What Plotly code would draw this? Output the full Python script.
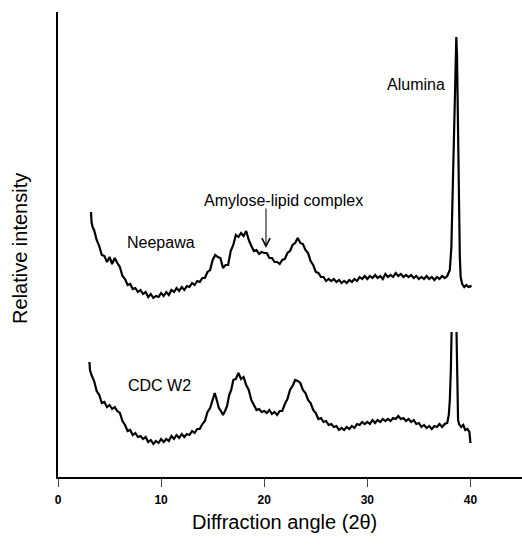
import plotly.graph_objects as go

# Diffraction angle (2θ) and relative intensity (arbitrary units)
neepawa_x = [3.2, 3.25, 3.35, 3.5, 3.75, 4.0, 4.25, 4.5, 4.75, 5.0, 5.25, 5.5, 5.75, 6.0, 6.25, 6.5, 6.75,
             7.0, 7.25, 7.5, 7.75, 8.0, 8.25, 8.5, 8.75, 9.0, 9.25, 9.5, 9.75, 10.0, 10.25, 10.5, 10.75,
             11.0, 11.25, 11.5, 11.75, 12.0, 12.25, 12.5, 12.75, 13.0, 13.25, 13.5, 13.75, 14.0, 14.25,
             14.5, 14.75, 15.0, 15.25, 15.5, 15.75, 16.0, 16.25, 16.5, 16.75, 17.0, 17.25, 17.5, 17.75,
             18.0, 18.25, 18.5, 18.75, 19.0, 19.25, 19.5, 19.75, 20.0, 20.25, 20.5, 20.75, 21.0, 21.25,
             21.5, 21.75, 22.0, 22.25, 22.5, 22.75, 23.0, 23.25, 23.5, 23.75, 24.0, 24.25, 24.5, 24.75,
             25.0, 25.25, 25.5, 25.75, 26.0, 26.25, 26.5, 26.75, 27.0, 27.25, 27.5, 27.75, 28.0, 28.25,
             28.5, 28.75, 29.0, 29.25, 29.5, 29.75, 30.0, 30.25, 30.5, 30.75, 31.0, 31.25, 31.5, 31.75,
             32.0, 32.25, 32.5, 32.75, 33.0, 33.25, 33.5, 33.75, 34.0, 34.25, 34.5, 34.75, 35.0, 35.25,
             35.5, 35.75, 36.0, 36.25, 36.5, 36.75, 37.0, 37.25, 37.5, 37.75, 38.0, 38.15, 38.3, 38.45,
             38.55, 38.63, 38.7, 38.8, 38.9, 38.97, 39.05, 39.2, 39.4, 39.6, 39.8, 40.0, 40.1]
neepawa_y = [265, 255, 250, 247, 237, 231, 222, 221, 215, 220, 213, 219, 214, 210, 201, 198, 192,
             193, 188, 189, 185, 187, 183, 185, 180, 183, 179, 181, 180, 184, 181, 185, 182,
             187, 185, 189, 186, 190, 187, 191, 190, 194, 192, 196, 195, 199, 199,
             205, 207, 217, 222, 220, 219, 209, 212, 212, 226, 232, 242, 240, 244,
             241, 246, 237, 231, 226, 227, 223, 225, 224, 224, 219, 219, 215, 215,
             213, 217, 218, 224, 226, 232, 234, 239, 234, 233, 227, 224, 216, 212,
             205, 204, 200, 200, 196, 198, 196, 198, 195, 197, 194, 196, 194, 197,
             195, 198, 196, 200, 198, 201, 198, 201, 199, 202, 199, 201, 198, 203,
             200, 202, 200, 204, 201, 203, 200, 202, 200, 202, 199, 201, 198, 200,
             198, 201, 198, 200, 197, 200, 198, 201, 199, 201, 207, 230, 307, 380,
             430, 440, 420, 340, 290, 220, 200, 193, 190, 192, 190, 191, 190]

cdc_x = [3.05, 3.1, 3.25, 3.5, 3.75, 4.0, 4.25, 4.5, 4.75, 5.0, 5.25, 5.5, 5.75, 6.0, 6.25, 6.5, 6.75,
         7.0, 7.25, 7.5, 7.75, 8.0, 8.25, 8.5, 8.75, 9.0, 9.25, 9.5, 9.75, 10.0, 10.25, 10.5, 10.75,
         11.0, 11.25, 11.5, 11.75, 12.0, 12.25, 12.5, 12.75, 13.0, 13.25, 13.5, 13.75, 14.0, 14.25,
         14.5, 14.75, 15.0, 15.2, 15.4, 15.6, 15.8, 16.0, 16.2, 16.4, 16.6, 16.8, 17.0, 17.25, 17.5,
         17.75, 18.0, 18.25, 18.5, 18.75, 19.0, 19.25, 19.5, 19.75, 20.0, 20.25, 20.5, 20.75, 21.0,
         21.25, 21.5, 21.75, 22.0, 22.25, 22.5, 22.75, 23.0, 23.25, 23.5, 23.75, 24.0, 24.25, 24.5,
         24.75, 25.0, 25.25, 25.5, 25.75, 26.0, 26.25, 26.5, 26.75, 27.0, 27.25, 27.5, 27.75, 28.0,
         28.25, 28.5, 28.75, 29.0, 29.25, 29.5, 29.75, 30.0, 30.25, 30.5, 30.75, 31.0, 31.25, 31.5,
         31.75, 32.0, 32.25, 32.5, 32.75, 33.0, 33.25, 33.5, 33.75, 34.0, 34.25, 34.5, 34.75, 35.0,
         35.25, 35.5, 35.75, 36.0, 36.25, 36.5, 36.75, 37.0, 37.25, 37.5, 37.75, 37.9, 38.0, 38.1,
         38.17, None, 38.65, 38.75, 38.8, 38.9, 39.1, 39.3, 39.5, 39.7, 39.9, 40.0]
cdc_y = [115, 107, 102, 96, 86, 82, 74, 75, 70, 72, 68, 70, 66, 64, 56, 52, 46,
         47, 42, 44, 40, 41, 38, 40, 35, 37, 33, 36, 34, 38, 35, 38, 36,
         41, 38, 42, 39, 43, 40, 43, 42, 46, 44, 48, 48, 53, 56,
         65, 69, 79, 84, 77, 69, 66, 62, 66, 71, 82, 87, 97, 98, 104,
         98, 100, 92, 87, 77, 72, 67, 68, 65, 66, 64, 67, 63, 65,
         62, 66, 66, 73, 78, 87, 91, 97, 96, 94, 87, 84, 77, 74,
         67, 64, 58, 59, 55, 56, 52, 53, 50, 51, 47, 49, 47, 50,
         48, 51, 49, 53, 52, 55, 53, 55, 53, 57, 54, 57, 55, 58,
         56, 58, 56, 59, 58, 61, 58, 59, 56, 58, 55, 57, 53, 54,
         50, 52, 49, 51, 48, 51, 50, 53, 50, 53, 54, 62, 77, 107,
         145, None, 145, 97, 57, 53, 50, 52, 47, 48, 45, 34]

x_ticks = [0, 10, 20, 30, 40]
FONT = "Liberation Sans, Arial, sans-serif"

fig = go.Figure()
for xs, ys, name in [(neepawa_x, neepawa_y, "Neepawa"), (cdc_x, cdc_y, "CDC W2")]:
    fig.add_trace(go.Scatter(x=xs, y=ys, mode="lines", name=name,
                             line=dict(color="black", width=2.2),
                             connectgaps=False, showlegend=False, hoverinfo="skip"))

fig.update_layout(
    width=522, height=546,
    margin=dict(l=58, r=0, t=12, b=69),
    paper_bgcolor="white", plot_bgcolor="white",
    font=dict(family=FONT, color="black"),
)
fig.update_xaxes(range=[0, 45], tickvals=x_ticks, ticks="outside", ticklen=8, tickwidth=1,
                 tickcolor="#444", showline=True, linecolor="black", linewidth=1.5,
                 showgrid=False, zeroline=False, automargin=False, ticklabelstandoff=3,
                 tickfont=dict(size=12, family=FONT, color="black", weight="bold"))
fig.update_yaxes(range=[0, 465], showticklabels=False, ticks="", showline=True,
                 linecolor="black", linewidth=1.5, showgrid=False, zeroline=False, automargin=False)

# axis titles
fig.add_annotation(xref="paper", yref="paper", x=0.489, y=-0.097, text="Diffraction angle (2θ)",
                   showarrow=False, font=dict(size=20, family=FONT, color="black"),
                   xanchor="center", yanchor="middle")
fig.add_annotation(xref="paper", yref="paper", x=-0.082, y=0.4925, text="Relative intensity",
                   showarrow=False, font=dict(size=20, family=FONT, color="black"), textangle=-90,
                   xanchor="center", yanchor="middle")

ann_font = dict(size=16, family=FONT, color="black")
fig.add_annotation(x=34.7, y=393, text="Alumina", showarrow=False, font=ann_font)
fig.add_annotation(x=10.0, y=235, text="Neepawa", showarrow=False, font=ann_font)
fig.add_annotation(x=21.9, y=277, text="Amylose-lipid complex", showarrow=False, font=ann_font)
fig.add_annotation(x=9.8, y=92, text="CDC W2", showarrow=False, font=ann_font)
fig.add_annotation(x=20.17, y=229, ax=20.17, ay=270, axref="x", ayref="y", xref="x", yref="y",
                   text="", showarrow=True, arrowhead=5, arrowsize=1.6, arrowwidth=1, arrowcolor="black")

fig.write_html("out.html", config={"displayModeBar": False},
               post_script="document.body.style.margin='0';document.body.style.overflow='hidden';")
